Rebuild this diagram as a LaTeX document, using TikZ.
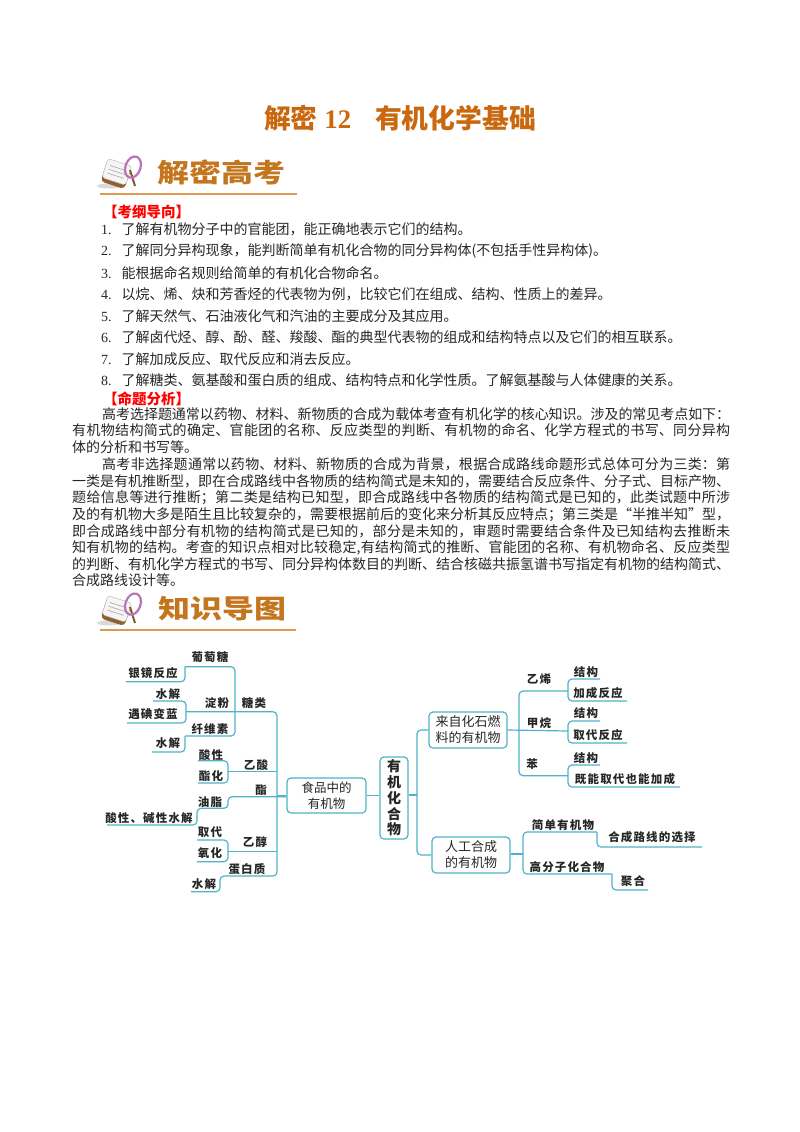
\documentclass[tikz,border=0pt]{standalone}
\usepackage{fontspec}
\setmainfont{Noto Sans CJK SC}
\newfontfamily\latfont{Liberation Serif}
\newfontfamily\labfont[LetterSpace=10]{Noto Sans CJK SC}
\usetikzlibrary{positioning}
\XeTeXlinebreaklocale "zh"
\XeTeXlinebreakskip=0pt plus 1pt minus .2pt
\newcommand\dou{\char"FF0C\relax}
\newcommand\fen{\char"FF1B\relax}
\newcommand\mao{\char"FF1A\relax}
\definecolor{titlec}{HTML}{C9680F}
\definecolor{headc}{HTML}{C4761E}
\definecolor{rulec}{HTML}{DE9A50}
\definecolor{linkc}{HTML}{4FB2C6}
\definecolor{bodyc}{HTML}{262626}
\tikzset{
  lab/.style={inner sep=0pt, font=\labfont\bfseries\fontsize{11.5}{13}\selectfont, text=black!85},
  link/.style={draw=linkc, line width=1.2pt, rounded corners=4pt},
  bigbox/.style={draw=linkc, line width=1.2pt, rounded corners=4pt, align=center, inner sep=0pt,
    font=\fontsize{13}{16}\selectfont, text=black!85},
  bodyline/.style={anchor=west, inner sep=0pt, font=\fontsize{14}{16}\selectfont, text=bodyc},
  redhead/.style={anchor=west, inner sep=0pt, font=\bfseries\fontsize{14.5}{16}\selectfont, text=red},
  para/.style={anchor=north west, inner sep=0pt, text width=658pt, align=justify,
    font=\fontsize{14}{16.6}\selectfont, text=bodyc},
  sechead/.style={anchor=west, inner sep=0pt, font=\bfseries\fontsize{26}{30}\selectfont, text=headc},
  lens/.pic={
    \fill[black!15] (-8,13) ellipse (12 and 2.5);
    \fill[brown!75!black, rotate=-18, rounded corners=4pt] (-13,-10) rectangle (12,13);
    \fill[black!4, draw=black!30, rotate=-18, rounded corners=3pt] (-13,-11) rectangle (12,9);
    \foreach \liney in {-5,-1,3}
      \draw[black!35, line width=.6pt, rotate=-18] (-9,\liney) -- (8,\liney);
    \draw[brown!70!black, line width=2pt] (13,-3) -- (18,13);
    \draw[violet!55, line width=2.2pt, rotate=-20] (13,-11) ellipse (7.5 and 11);
  }
}
\begin{document}
\begin{tikzpicture}[x=1pt,y=-1pt]
\useasboundingbox (0,0) rectangle (800,1132);

\node[inner sep=0pt, font=\bfseries\fontsize{26.8}{30}\selectfont, text=titlec] (title) at (400,118)
  {解密{\latfont\ 12}\hspace{24pt}有机化学基础};

\pic at (117,173) {lens};
\node[sechead] (gaokao) at (157,172) {\scalebox{1.23}[1]{解密高考}};
\coordinate (gaokaol) at (100,193.5);
\coordinate (gaokaor) at (297,193.5);
\draw[rulec, line width=2pt] (gaokaol) -- (gaokaor);

\node[redhead] (gangtitle) at (103,212) {【考纲导向】};
\node[bodyline] (g1) at (101,229) {{\latfont 1.}\hspace{10pt}了解有机物分子中的官能团\dou{}能正确地表示它们的结构。};
\node[bodyline] (g2) at (101,251) {{\latfont 2.}\hspace{10pt}了解同分异构现象\dou{}能判断简单有机化合物的同分异构体(不包括手性异构体)。};
\node[bodyline] (g3) at (101,273) {{\latfont 3.}\hspace{10pt}能根据命名规则给简单的有机化合物命名。};
\node[bodyline] (g4) at (101,294) {{\latfont 4.}\hspace{10pt}以烷、烯、炔和芳香烃的代表物为例\dou{}比较它们在组成、结构、性质上的差异。};
\node[bodyline] (g5) at (101,316) {{\latfont 5.}\hspace{10pt}了解天然气、石油液化气和汽油的主要成分及其应用。};
\node[bodyline] (g6) at (101,337) {{\latfont 6.}\hspace{10pt}了解卤代烃、醇、酚、醛、羧酸、酯的典型代表物的组成和结构特点以及它们的相互联系。};
\node[bodyline] (g7) at (101,359) {{\latfont 7.}\hspace{10pt}了解加成反应、取代反应和消去反应。};
\node[bodyline] (g8) at (101,380) {{\latfont 8.}\hspace{10pt}了解糖类、氨基酸和蛋白质的组成、结构特点和化学性质。了解氨基酸与人体健康的关系。};
\node[redhead] (mingtitle) at (103,399) {【命题分析】};

\node[para] (para1) at (72,407) {\hspace*{30pt}高考选择题通常以药物、材料、新物质的合成为载体考查有机化学的核心知识。涉及的常见考点如下\mao\linebreak
有机物结构简式的确定、官能团的名称、反应类型的判断、有机物的命名、化学方程式的书写、同分异构\linebreak
体的分析和书写等。};
\node[para] (para2) at (72,457.5) {\hspace*{30pt}高考非选择题通常以药物、材料、新物质的合成为背景\dou{}根据合成路线命题形式总体可分为三类\mao{}第\linebreak
一类是有机推断型\dou{}即在合成路线中各物质的结构简式是未知的\dou{}需要结合反应条件、分子式、目标产物、\linebreak
题给信息等进行推断\fen{}第二类是结构已知型\dou{}即合成路线中各物质的结构简式是已知的\dou{}此类试题中所涉\linebreak
及的有机物大多是陌生且比较复杂的\dou{}需要根据前后的变化来分析其反应特点\fen{}第三类是“半推半知”型\dou\linebreak
即合成路线中部分有机物的结构简式是已知的\dou{}部分是未知的\dou{}审题时需要结合条件及已知结构去推断未\linebreak
知有机物的结构。考查的知识点相对比较稳定,有结构简式的推断、官能团的名称、有机物命名、反应类型\linebreak
的判断、有机化学方程式的书写、同分异构体数目的判断、结合核磁共振氢谱书写指定有机物的结构简式、\linebreak
合成路线设计等。};

\pic at (117,610) {lens};
\node[sechead] (zhishi) at (158,609) {\scalebox{1.23}[1]{知识导图}};
\coordinate (zhishil) at (100,630);
\coordinate (zhishir) at (296,630);
\draw[rulec, line width=2pt] (zhishil) -- (zhishir);

% middle boxes
\node[bigbox, minimum width=79pt, minimum height=35pt, font=\fontsize{12.5}{15.5}\selectfont] (food) at (326.5,795.5) {食品中的\\有机物};
\node[bigbox, minimum width=28pt, minimum height=82pt, font=\bfseries\fontsize{14}{15.7}\selectfont] (organic) at (394,798) {有\\机\\化\\合\\物};
\node[bigbox, minimum width=78pt, minimum height=36pt] (fossil) at (468,730) {来自化石燃\\料的有机物};
\node[bigbox, minimum width=78pt, minimum height=36pt] (synth) at (471,855) {人工合成\\的有机物};

% left labels
\node[lab] (putao) at (210,657) {葡萄糖};
\node[lab] (yinjing) at (153,673) {银镜反应};
\node[lab] (dianfen) at (217,703) {淀粉};
\node[lab] (shuia) at (168,694) {水解};
\node[lab] (diandian) at (153,714) {遇碘变蓝};
\node[lab] (xianwei) at (210,729) {纤维素};
\node[lab] (shuib) at (168,743) {水解};
\node[lab] (tanglei) at (254,703) {糖类};
\node[lab] (yisuan) at (256,765) {乙酸};
\node[lab] (suanxing) at (211,755) {酸性};
\node[lab] (zhihua) at (211,776) {酯化};
\node[lab] (zhi) at (261,790) {酯};
\node[lab] (youzhi) at (210,802) {油脂};
\node[lab] (suanjian) at (149,818) {酸性、碱性水解};
\node[lab] (qudai) at (210,832) {取代};
\node[lab] (yanghua) at (210,853) {氧化};
\node[lab] (yichun) at (255,842) {乙醇};
\node[lab] (danbai) at (247,869) {蛋白质};
\node[lab] (shuic) at (204,884) {水解};

% right labels
\node[lab] (yixi) at (539,679) {乙烯};
\node[lab] (jiega) at (586,672) {结构};
\node[lab] (jiacheng) at (598,693) {加成反应};
\node[lab] (jiawan) at (539,723) {甲烷};
\node[lab] (jiegb) at (586,713) {结构};
\node[lab] (qudaifan) at (598,735) {取代反应};
\node[lab] (ben) at (532,764) {苯};
\node[lab] (jiegc) at (586,758) {结构};
\node[lab] (jineng) at (625,779) {既能取代也能加成};
\node[lab] (jiandan) at (563,825) {简单有机物};
\node[lab] (luxian) at (652,837) {合成路线的选择};
\node[lab] (gaofen) at (567,867) {高分子化合物};
\node[lab] (juhe) at (633,881) {聚合};

% left connectors
\coordinate (forkl) at (277,795.5);
\coordinate (tangl) at (186,711.7);
\coordinate (danbaic) at (220,876);
\coordinate (shuicl) at (191,891.7);
\draw[link] (tangl) -| (forkl) |- (danbaic) |- (shuicl);
\draw[link] (food.west) -- (forkl);
\draw[link] (food.east) -- (organic.west |- food.east);

\coordinate (tangtop) at (185,666.7);
\coordinate (tangbot) at (185,736);
\coordinate (tangfork) at (235,700);
\draw[link] (tangtop) -| (tangfork) |- (tangbot);
\coordinate (yinjingl) at (126,681.7);
\draw[link] (tangtop) |- (yinjingl);
\coordinate (shuial) at (153,701);
\coordinate (diandianl) at (127,723);
\draw[link] (shuial) -| (tangl) |- (diandianl);
\coordinate (shuibl) at (152,752);
\draw[link] (tangbot) |- (shuibl);

\coordinate (yisuanj) at (228,771.7);
\coordinate (suanl) at (198,760.7);
\coordinate (zhil) at (198,783);
\draw[link] (yisuanj) -- (forkl |- yisuanj);
\draw[link] (suanl) -| (yisuanj) |- (zhil);

\coordinate (youzhij) at (228,796.7);
\coordinate (youl) at (197,808.3);
\coordinate (suanjianl) at (107,825);
\draw[link] (food.west |- youzhij) -| (youzhij |- youl) -- (youl) |- (suanjianl);

\coordinate (yichunj) at (228,851.7);
\coordinate (qul) at (197,840);
\coordinate (yangl) at (197,861.7);
\draw[link] (yichunj) -- (forkl |- yichunj);
\draw[link] (qul) -| (yichunj) |- (yangl);

% right connectors
\coordinate (forkr) at (417,795);
\draw[link] (organic.east |- forkr) -- (forkr);
\draw[link] (fossil.west) -| (forkr) |- (synth.west);

\coordinate (forkf) at (519,731);
\coordinate (yixij) at (568,691);
\coordinate (jiawanj) at (568,731);
\coordinate (benj) at (568,775.7);
\draw[link] (fossil.east) -- (jiawanj);
\draw[link] (yixij) -| (forkf) |- (benj);

\coordinate (jiegar) at (600,679);
\coordinate (jiacr) at (627,701);
\draw[link] (jiegar) -| (yixij) |- (jiacr);
\coordinate (jiegbr) at (600,721);
\coordinate (qudr) at (627,743);
\draw[link] (jiegbr) -| (jiawanj) |- (qudr);
\coordinate (jiegcr) at (600,765);
\coordinate (jinr) at (680,787);
\draw[link] (jiegcr) -| (benj) |- (jinr);

\coordinate (forks) at (523,854);
\coordinate (jiandanr) at (597,832);
\coordinate (gaofenr) at (612,874);
\draw[link] (synth.east |- forks) -- (forks);
\draw[link] (jiandanr) -| (forks) |- (gaofenr);
\coordinate (luxianr) at (702,847);
\coordinate (juher) at (648,890);
\draw[link] (jiandanr) |- (luxianr);
\draw[link] (gaofenr) |- (juher);
\end{tikzpicture}
\end{document}
